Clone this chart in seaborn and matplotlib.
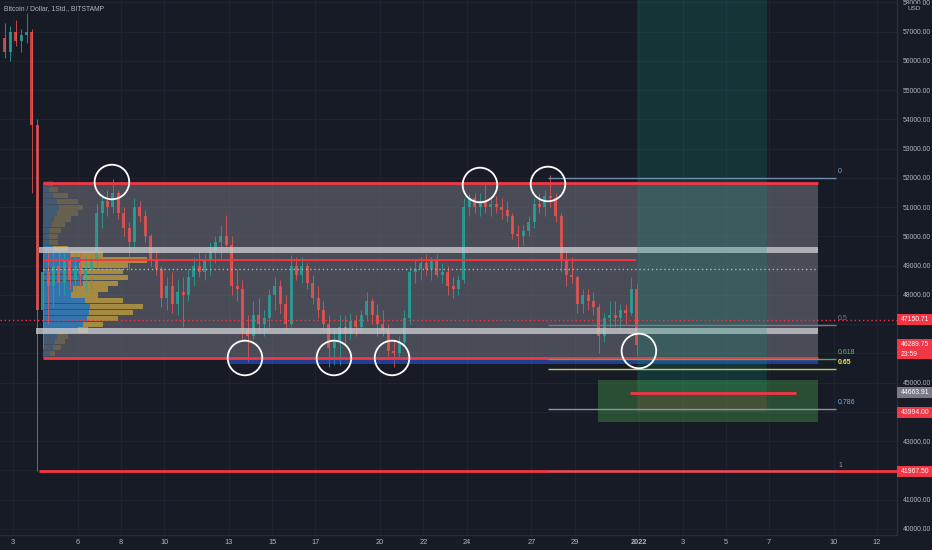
# BTC/USD range chart with fib levels and a long position box
import matplotlib
matplotlib.use("Agg")
import matplotlib.pyplot as plt
import seaborn as sns
import pandas as pd
from matplotlib.patches import Rectangle
from matplotlib.transforms import blended_transform_factory

# x axis is in days, day 0 = 3 Dec 2021 00:00; candles are 6h
candle_start = -0.5
candle_step = 0.25
first_open = 56800
highs = [57300, 57200, 57400, 57100, 57640, 57100, 54000, 49400, 49500, 49500,
         49600, 49500, 49500, 49400, 49500, 49300, 49400, 51100, 51400, 51600,
         51950, 51600, 51000, 50500, 51300, 51200, 50900, 50100, 49500, 49000,
         48600, 48800, 48500, 48600, 48900, 49300, 49500, 49400, 49800, 50000,
         50400, 50730, 50000, 48900, 48500, 47300, 47800, 47900, 47500, 48200,
         48600, 48500, 48000, 49350, 49300, 49300, 49100, 48700, 48300, 47800,
         47300, 46900, 47300, 47300, 47400, 47300, 47500, 48100, 47900, 47700,
         47500, 47000, 46500, 46600, 47500, 49000, 49200, 49300, 49400, 49300,
         49400, 49100, 49000, 48600, 48700, 51300, 51500, 51500, 51500, 51850,
         51400, 51400, 51300, 51200, 50800, 50400, 50400, 50700, 51300, 51500,
         51600, 52088, 51500, 50800, 49500, 49300, 48700, 48200, 48200, 48100,
         47700, 47400, 47800, 47800, 47700, 47700, 48600, 48400]
lows = [56100, 56000, 56500, 56300, 56600, 51500, 41967.5, 46200, 47000, 47600,
        48000, 48000, 48200, 48100, 48300, 48100, 48200, 49000, 50300, 50700,
        50800, 50600, 50000, 48850, 49600, 50500, 49800, 49000, 48700, 47600,
        47500, 47400, 47300, 46900, 47800, 48300, 48600, 48500, 48700, 49100,
        49200, 49600, 48000, 47800, 46500, 45700, 46500, 46700, 46600, 46900,
        47500, 47400, 46800, 46900, 48500, 48400, 48200, 47700, 47200, 46800,
        45550, 45600, 45600, 46300, 46500, 46600, 46700, 47100, 47000, 46600,
        46600, 45900, 45550, 45800, 46300, 47000, 48400, 48500, 48700, 48500,
        48600, 48400, 48000, 47900, 48000, 48400, 50700, 50800, 50700, 50800,
        50700, 50800, 50600, 50500, 49900, 49600, 49700, 50000, 50300, 50800,
        50700, 51000, 50500, 48800, 48300, 48400, 47400, 47400, 47500, 47300,
        46000, 46400, 46900, 46900, 46800, 47000, 47300, 45900]
closes = [56300, 57000, 56700, 56900, 57000, 53800, 47500, 48800, 48300, 49000,
          48400, 49200, 48500, 49000, 48700, 48900, 49200, 50800, 51200, 51000,
          51500, 50800, 50300, 49800, 51000, 50700, 50000, 49200, 48900, 47900,
          48300, 47700, 48100, 48000, 48600, 49000, 48800, 49200, 49500, 49800,
          50000, 49700, 48300, 48200, 46800, 46600, 47300, 47000, 47200, 48000,
          48300, 47700, 47000, 49000, 48700, 49000, 48400, 47900, 47500, 47000,
          46200, 46400, 46900, 46700, 47100, 46900, 47300, 47800, 47300, 47000,
          46800, 46100, 46000, 46400, 47200, 48800, 48900, 49100, 48900, 49200,
          48700, 48800, 48300, 48200, 48500, 51000, 51300, 51000, 51200, 51000,
          51100, 51000, 50900, 50700, 50100, 50000, 50200, 50500, 51100, 51000,
          51400, 51300, 50700, 49200, 48700, 48600, 47700, 48000, 47800, 47600,
          46600, 47200, 47300, 47200, 47500, 47400, 48200, 46289.75]

# session volume profile (arbitrary units), value area marked
vp_price = [51800, 51600, 51400, 51200, 51000, 50800, 50600, 50400, 50200, 50000,
            49800, 49600, 49400, 49200, 49000, 48800, 48600, 48400, 48200, 48000,
            47800, 47600, 47400, 47200, 47000, 46800, 46600, 46400, 46200, 46000]
vp_up = [4, 6, 10, 14, 16, 14, 11, 9, 7, 6, 6, 10, 28, 38, 36, 38, 40, 40, 30, 28,
         42, 47, 46, 44, 40, 35, 14, 12, 10, 7]
vp_down = [6, 9, 15, 21, 24, 21, 17, 13, 11, 9, 9, 15, 32, 66, 49, 42, 45, 35, 35, 27,
           38, 53, 44, 31, 20, 10, 11, 10, 8, 5]
vp_value_area = (46700, 49700)

# drawings (day, price)
range_top = 51830
range_bottom = 45860
poc_level = 49200
mid_dotted = 48890
upper_band = (49450, 49630)
lower_band = (46680, 46860)
support_band = (45630, 45860)
last_close_prev = 47150.71
current_price = 46289.75
entry_price = 44663.91
stop_price = 43994.00
crash_low = 41967.50
fib_high = 52010
fib_low = crash_low
fib_ratios = [0, 0.5, 0.618, 0.65, 0.786, 1]
fib_labels = ["0", "0.5", "0.618", "0.65", "0.786", "1"]
fib_line_colors = ["#6e8fb0", "#787b86", "#4caf50", "#c9c95a", "#8a94a8", "#787b86"]
fib_text_colors = ["#7fa7cf", "#787b86", "#66bb6a", "#f5e94a", "#64b5f6", "#9598a1"]
circle_days = [4.58, 10.74, 14.86, 17.55, 21.62, 24.77, 28.98]
circle_prices = [51863, 45846, 45846, 45846, 51760, 51795, 46085]

tick_days = [0, 3, 5, 7, 10, 12, 14, 17, 19, 21, 24, 26, 29, 31, 33, 35, 38, 40]
tick_labels = ["3", "6", "8", "10", "13", "15", "17", "20", "22", "24", "27", "29",
               "2022", "3", "5", "7", "10", "12"]
price_ticks = list(range(40000, 58001, 1000))
hidden_ticks = [42000, 44000, 46000, 47000]  # covered by price tags

bg = "#171b25"
txt = "#b2b5be"
red = "#f23645"

sns.set_theme(style="dark", rc={"axes.facecolor": bg, "figure.facecolor": bg})
plt.rcParams["font.family"] = ["Liberation Sans", "DejaVu Sans"]

opens = [first_open] + closes[:-1]
df = pd.DataFrame({"open": opens, "high": highs, "low": lows, "close": closes})
df["day"] = [candle_start + candle_step * (i + 0.5) for i in range(len(df))]
df["up"] = df["close"] >= df["open"]

fig = plt.figure(figsize=(9.32, 5.5), dpi=100)
ax = fig.add_axes([0, 15 / 550, 897 / 932, 535 / 550])
ax.set_xlim(-0.602, 40.93)
ax.set_ylim(39794, 58085)
px = 34.19  # price per pixel

# grid
for d in tick_days:
    ax.axvline(d, color="#1f2330", lw=0.8, zorder=0)
for p in price_ticks:
    ax.axhline(p, color="#1f2330", lw=0.8, zorder=0)

x0, x1 = 1.389, 37.27

# gray range box
ax.add_patch(Rectangle((x0, range_bottom), x1 - x0, range_top - range_bottom,
                       fc="#787a84", alpha=0.52, lw=0, zorder=1))

# volume profile
for p, u, d in zip(vp_price, vp_up, vp_down):
    inside = vp_value_area[0] <= p <= vp_value_area[1]
    a = 0.55 if inside else 0.18
    ax.barh(p, u / 21.6, left=x0, height=180, color="#2196f3", alpha=a, lw=0, zorder=2)
    ax.barh(p, d / 21.6, left=x0 + u / 21.6, height=180, color="#f0c030", alpha=a, lw=0, zorder=2)

# candles
cols = df["up"].map({True: "#26a69a", False: "#ef5350"})
ax.vlines(df["day"], df["low"], df["high"], colors=cols, lw=0.7, alpha=0.8, zorder=3)
ax.bar(df["day"], (df["close"] - df["open"]).where(lambda s: s.abs() > 30, 30),
       bottom=df["open"], width=candle_step * 0.55, color=cols, alpha=0.8, lw=0, zorder=3)

# bands and lines
ax.add_patch(Rectangle((1.204, upper_band[0]), x1 - 1.204, upper_band[1] - upper_band[0],
                       fc="#c8c9cc", alpha=0.8, lw=0, zorder=4))
ax.add_patch(Rectangle((1.065, lower_band[0]), x1 - 1.065, lower_band[1] - lower_band[0],
                       fc="#c8c9cc", alpha=0.8, lw=0, zorder=4))
ax.add_patch(Rectangle((9.954, support_band[0]), x1 - 9.954, support_band[1] - support_band[0],
                       fc="#2962ff", alpha=0.5, lw=0, zorder=4))
ax.hlines([range_top, range_bottom], x0, x1, color=red, lw=2, zorder=5)
ax.hlines(poc_level, x0, 28.84, color=red, lw=1.4, zorder=5)
ax.hlines(mid_dotted, x0, x1, color=txt, lw=1, ls=(0, (1, 2)), zorder=5)
ax.axhline(last_close_prev, color=red, lw=1, ls=(0, (1, 2)), zorder=5)
ax.hlines(crash_low, 1.204, 40.93, color=red, lw=2, zorder=5)

# long position
ax.add_patch(Rectangle((28.89, entry_price), 34.91 - 28.89, 60000 - entry_price,
                       fc="#089981", alpha=0.21, lw=0, zorder=4))
ax.add_patch(Rectangle((28.89, stop_price), 34.91 - 28.89, entry_price - stop_price,
                       fc=red, alpha=0.2, lw=0, zorder=4))
ax.add_patch(Rectangle((27.08, 43660), x1 - 27.08, 45090 - 43660,
                       fc="#4caf50", alpha=0.35, lw=0, zorder=4))
ax.hlines(entry_price, 28.56, 36.25, color=red, lw=2, zorder=6)

# fib retracement
for r, lab, lc, tc in zip(fib_ratios, fib_labels, fib_line_colors, fib_text_colors):
    lvl = fib_high - r * (fib_high - fib_low)
    ax.hlines(lvl, 24.77, 38.10, color=lc, lw=1, zorder=6)
    ax.annotate(lab, (38.2, lvl), xytext=(0, 2), textcoords="offset points",
                fontsize=5, color=tc, va="bottom", ha="left",
                fontweight="bold" if lab == "0.65" else "normal", zorder=7)

# circles
sns.scatterplot(x=circle_days, y=circle_prices, s=620, facecolor="none",
                edgecolor="white", linewidth=1.3, ax=ax, zorder=8, legend=False)

# axes styling
ax.yaxis.tick_right()
ax.set_yticks(price_ticks)
ax.set_yticklabels(["" if v in hidden_ticks else f"{v:.2f}" for v in price_ticks])
ax.set_xticks(tick_days)
ax.set_xticklabels(tick_labels)
ax.tick_params(axis="y", colors=txt, labelsize=4.9, length=0, pad=4)
ax.tick_params(axis="x", colors=txt, labelsize=5.3, length=0, pad=3)
for lbl in ax.get_xticklabels():
    if lbl.get_text() == "2022":
        lbl.set_fontweight("bold")
for s in ["top", "left"]:
    ax.spines[s].set_visible(False)
for s in ["right", "bottom"]:
    ax.spines[s].set_color("#2a2e39")
    ax.spines[s].set_linewidth(1)

# price tags on the right scale: (price, text, colour, box centre, box height px)
tr = blended_transform_factory(ax.transAxes, ax.transData)
tags = [(last_close_prev, "47150.71", red, last_close_prev, 11),
        (current_price, "46289.75\n23:59", red, 46140, 20),
        (entry_price, "44663.91", "#787b86", entry_price, 11),
        (stop_price, "43994.00", red, stop_price, 11),
        (crash_low, "41967.50", red, crash_low, 11)]
for p, t, fc, c, h in tags:
    ax.add_patch(Rectangle((1.0, c - h * px / 2), 35 / 897, h * px, transform=tr,
                           fc=fc, lw=0, clip_on=False, zorder=19))
    ax.text(1.0045, c, t, transform=tr, fontsize=4.9, color="white", va="center", ha="left",
            linespacing=1.45, clip_on=False, zorder=20)

fig.text(4 / 932, 1 - 9 / 550, "Bitcoin / Dollar, 1Std., BITSTAMP", fontsize=4.9,
         color=txt, va="center", ha="left")
fig.text(914 / 932, 1 - 8 / 550, "USD", fontsize=4.6, color=txt, va="center", ha="center",
         bbox=dict(boxstyle="square,pad=0.25", fc=bg, ec="none"))

fig.savefig("out.png", dpi=100, facecolor=bg)
